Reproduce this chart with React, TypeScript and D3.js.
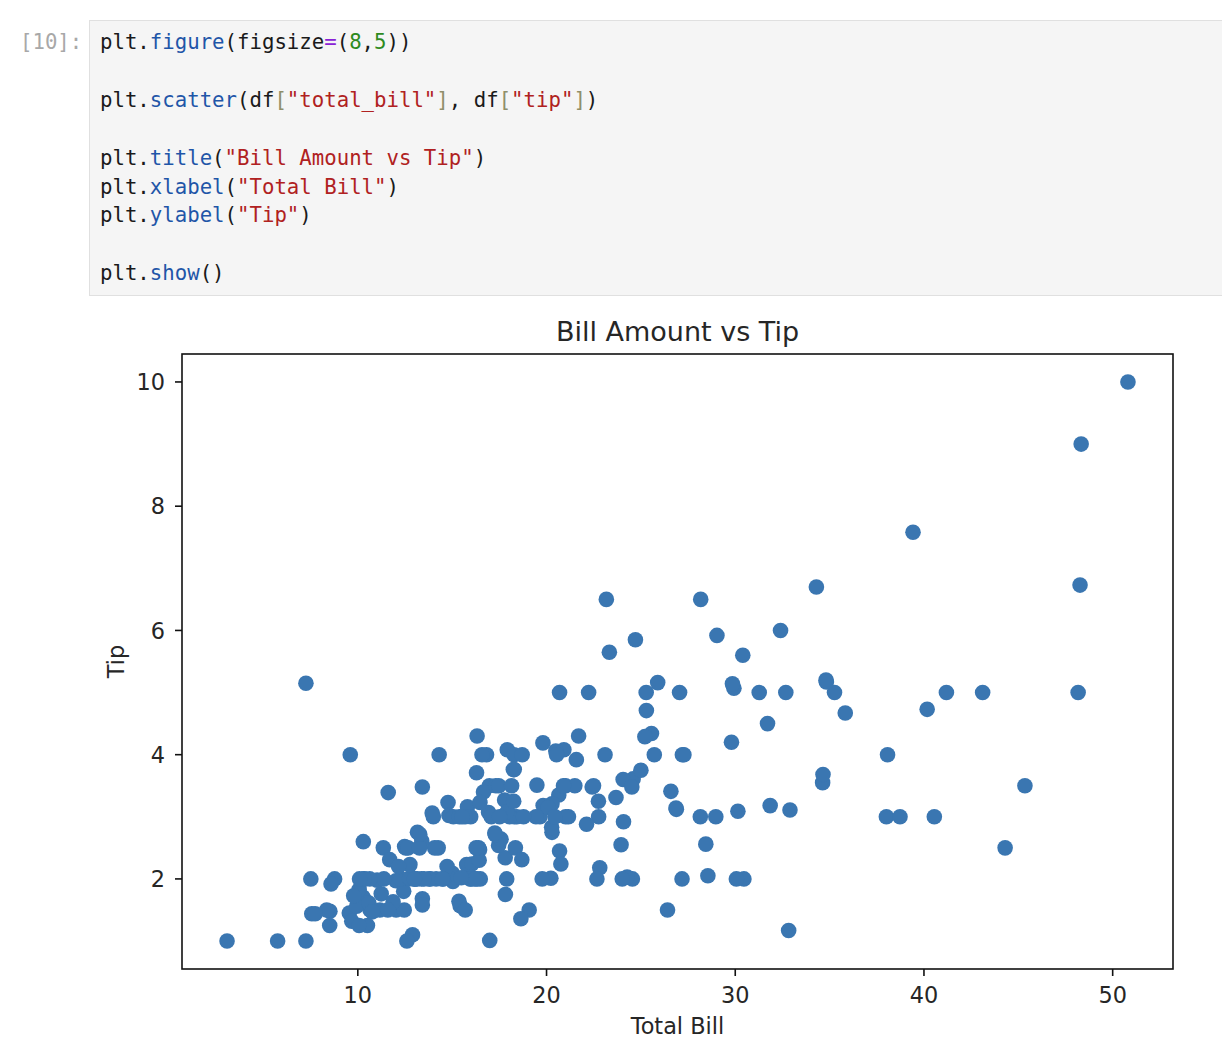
import { useMemo } from 'react';
import { scaleLinear, extent } from 'd3';

// tips dataset: total_bill / tip
const totalBill = [
  16.99, 10.34, 21.01, 23.68, 24.59, 25.29, 8.77, 26.88, 15.04, 14.78, 10.27, 35.26, 15.42, 18.43, 14.83, 21.58,
  10.33, 16.29, 16.97, 20.65, 17.92, 20.29, 15.77, 39.42, 19.82, 17.81, 13.37, 12.69, 21.7, 19.65, 9.55, 18.35,
  15.06, 20.69, 17.78, 24.06, 16.31, 16.93, 18.69, 31.27, 16.04, 17.46, 13.94, 9.68, 30.4, 18.29, 22.23, 32.4,
  28.55, 18.04, 12.54, 10.29, 34.81, 9.94, 25.56, 19.49, 38.01, 26.41, 11.24, 48.27, 20.29, 13.81, 11.02, 18.29,
  17.59, 20.08, 16.45, 3.07, 20.23, 15.01, 12.02, 17.07, 26.86, 25.28, 14.73, 10.51, 17.92, 27.2, 22.76, 17.29,
  19.44, 16.66, 10.07, 32.68, 15.98, 34.83, 13.03, 18.28, 24.71, 21.16, 28.97, 22.49, 5.75, 16.32, 22.75, 40.17,
  27.28, 12.03, 21.01, 12.46, 11.35, 15.38, 44.3, 22.42, 20.92, 15.36, 20.49, 25.21, 18.24, 14.31, 14.0, 7.25,
  38.07, 23.95, 25.71, 17.31, 29.93, 10.65, 12.43, 24.08, 11.69, 13.42, 14.26, 15.95, 12.48, 29.8, 8.52, 14.52,
  11.38, 22.82, 19.08, 20.27, 11.17, 12.26, 18.26, 8.51, 10.33, 14.15, 16.0, 13.16, 17.47, 34.3, 41.19, 27.05,
  16.43, 8.35, 18.64, 11.87, 9.78, 7.51, 14.07, 13.13, 17.26, 24.55, 19.77, 29.85, 48.17, 25.0, 13.39, 16.49,
  21.5, 12.66, 16.21, 13.81, 17.51, 24.52, 20.76, 31.71, 10.59, 10.63, 50.81, 15.81, 7.25, 31.85, 16.82, 32.9,
  17.89, 14.48, 9.6, 34.63, 34.65, 23.33, 45.35, 23.17, 40.55, 20.69, 20.9, 30.46, 18.15, 23.1, 15.69, 19.81,
  28.44, 15.48, 16.58, 7.56, 10.34, 43.11, 13.0, 13.51, 18.71, 12.74, 13.0, 16.4, 20.53, 16.47, 26.59, 38.73,
  24.27, 12.76, 30.06, 25.89, 48.33, 13.27, 28.17, 12.9, 28.15, 11.59, 7.74, 30.14, 12.16, 13.42, 8.58, 15.98,
  13.42, 16.27, 10.09, 20.45, 13.28, 22.12, 24.01, 15.69, 11.61, 10.77, 15.53, 10.07, 12.6, 32.83, 35.83, 29.03,
  27.18, 22.67, 17.82, 18.78,
];
const tip = [
  1.01, 1.66, 3.5, 3.31, 3.61, 4.71, 2.0, 3.12, 1.96, 3.23, 1.71, 5.0, 1.57, 3.0, 3.02, 3.92,
  1.67, 3.71, 3.5, 3.35, 4.08, 2.75, 2.23, 7.58, 3.18, 2.34, 2.0, 2.0, 4.3, 3.0, 1.45, 2.5,
  3.0, 2.45, 3.27, 3.6, 2.0, 3.07, 2.31, 5.0, 2.24, 2.54, 3.06, 1.32, 5.6, 3.0, 5.0, 6.0,
  2.05, 3.0, 2.5, 2.6, 5.2, 1.56, 4.34, 3.51, 3.0, 1.5, 1.76, 6.73, 3.21, 2.0, 1.98, 3.76,
  2.64, 3.15, 2.47, 1.0, 2.01, 2.09, 1.97, 3.0, 3.14, 5.0, 2.2, 1.25, 3.08, 4.0, 3.0, 2.71,
  3.0, 3.4, 1.83, 5.0, 2.03, 5.17, 2.0, 4.0, 5.85, 3.0, 3.0, 3.5, 1.0, 4.3, 3.25, 4.73,
  4.0, 1.5, 3.0, 1.5, 2.5, 3.0, 2.5, 3.48, 4.08, 1.64, 4.06, 4.29, 3.76, 4.0, 3.0, 1.0,
  4.0, 2.55, 4.0, 3.5, 5.07, 1.5, 1.8, 2.92, 2.31, 1.68, 2.5, 2.0, 2.52, 4.2, 1.48, 2.0,
  2.0, 2.18, 1.5, 2.83, 1.5, 2.0, 3.25, 1.25, 2.0, 2.0, 2.0, 2.75, 3.5, 6.7, 5.0, 5.0,
  2.3, 1.5, 1.36, 1.63, 1.73, 2.0, 2.5, 2.0, 2.74, 2.0, 2.0, 5.14, 5.0, 3.75, 2.61, 2.0,
  3.5, 2.5, 2.0, 2.0, 3.0, 3.48, 2.24, 4.5, 1.61, 2.0, 10.0, 3.16, 5.15, 3.18, 4.0, 3.11,
  2.0, 2.0, 4.0, 3.55, 3.68, 5.65, 3.5, 6.5, 3.0, 5.0, 3.5, 2.0, 3.5, 4.0, 1.5, 4.19,
  2.56, 2.02, 4.0, 1.44, 2.0, 5.0, 2.0, 2.0, 4.0, 2.01, 2.0, 2.5, 4.0, 3.23, 3.41, 3.0,
  2.03, 2.23, 2.0, 5.16, 9.0, 2.5, 6.5, 1.1, 3.0, 1.5, 1.44, 3.09, 2.2, 3.48, 1.92, 3.0,
  1.58, 2.5, 2.0, 3.0, 2.72, 2.88, 2.0, 3.0, 3.39, 1.47, 3.0, 1.25, 1.0, 1.17, 4.67, 5.92,
  2.0, 2.0, 1.75, 3.0,
];
const xTicks = [10, 20, 30, 40, 50];
const yTicks = [2, 4, 6, 8, 10];

// notebook cell source, one token list per line: [text, kind]
const codeLines: [string, string][][] = [
  [['plt.', 'n'], ['figure', 'p'], ['(figsize', 'n'], ['=', 'o'], ['(', 'n'], ['8', 'num'], [',', 'n'], ['5', 'num'], ['))', 'n']],
  [],
  [['plt.', 'n'], ['scatter', 'p'], ['(df', 'n'], ['[', 'b'], ['"total_bill"', 's'], [']', 'b'], [', df', 'n'], ['[', 'b'], ['"tip"', 's'], [']', 'b'], [')', 'n']],
  [],
  [['plt.', 'n'], ['title', 'p'], ['(', 'n'], ['"Bill Amount vs Tip"', 's'], [')', 'n']],
  [['plt.', 'n'], ['xlabel', 'p'], ['(', 'n'], ['"Total Bill"', 's'], [')', 'n']],
  [['plt.', 'n'], ['ylabel', 'p'], ['(', 'n'], ['"Tip"', 's'], [')', 'n']],
  [],
  [['plt.', 'n'], ['show', 'p'], ['()', 'n']],
];
const tokenColor: Record<string, string> = {
  n: '#1a1a1a', p: '#1f56a8', o: '#8a22d6', num: '#2e8a1e', s: '#b02121', b: '#8f8f6a',
};

const W = 1222;
const H = 1062;
const mono = '"DejaVu Sans Mono", monospace';
const sans = '"DejaVu Sans", sans-serif';

export default function App() {
  const plot = { left: 182, right: 1173, top: 354, bottom: 969 };

  const { x, y } = useMemo(() => {
    const [x0, x1] = extent(totalBill) as [number, number];
    const [y0, y1] = extent(tip) as [number, number];
    const px = (x1 - x0) * 0.05;
    const py = (y1 - y0) * 0.05;
    return {
      x: scaleLinear().domain([x0 - px, x1 + px]).range([plot.left, plot.right]),
      y: scaleLinear().domain([y0 - py, y1 + py]).range([plot.bottom, plot.top]),
    };
  }, []);

  const pw = plot.right - plot.left;
  const ph = plot.bottom - plot.top;

  return (
    <svg width={W} height={H} style={{ position: 'absolute', left: 0, top: 0, background: '#fff' }}>
      {/* code cell */}
      <text x={20} y={49} fontFamily={mono} fontSize={20.7} fill="#a8a8a8">[10]:</text>
      <rect x={89.5} y={20.5} width={W} height={275} fill="#f5f5f5" stroke="#e0e0e0" />
      {codeLines.map((tokens, i) => (
        <text key={i} x={100} y={49 + i * 28.9} fontFamily={mono} fontSize={20.7} style={{ whiteSpace: 'pre' }}>
          {tokens.map(([t, k], j) => (
            <tspan key={j} fill={tokenColor[k]}>{t}</tspan>
          ))}
        </text>
      ))}

      {/* scatter */}
      <g fill="#3a76b1">
        {totalBill.map((b, i) => (
          <circle key={i} cx={x(b)} cy={y(tip[i])} r={7.8} />
        ))}
      </g>

      <rect x={plot.left} y={plot.top} width={pw} height={ph} fill="none" stroke="#111" strokeWidth={1.6} />

      <g fontFamily={sans} fontSize={22.4} fill="#262626">
        {xTicks.map(t => (
          <g key={t}>
            <line x1={x(t)} x2={x(t)} y1={plot.bottom} y2={plot.bottom + 7} stroke="#111" strokeWidth={1.6} />
            <text x={x(t)} y={plot.bottom + 34} textAnchor="middle">{t}</text>
          </g>
        ))}
        {yTicks.map(t => (
          <g key={t}>
            <line x1={plot.left - 7} x2={plot.left} y1={y(t)} y2={y(t)} stroke="#111" strokeWidth={1.6} />
            <text x={plot.left - 17} y={y(t)} dy="0.36em" textAnchor="end">{t}</text>
          </g>
        ))}
        <text x={(plot.left + plot.right) / 2} y={1034} textAnchor="middle">Total Bill</text>
        <text transform={`translate(124,${(plot.top + plot.bottom) / 2}) rotate(-90)`} textAnchor="middle">Tip</text>
        <text x={(plot.left + plot.right) / 2} y={341} textAnchor="middle" fontSize={27}>Bill Amount vs Tip</text>
      </g>
    </svg>
  );
}
